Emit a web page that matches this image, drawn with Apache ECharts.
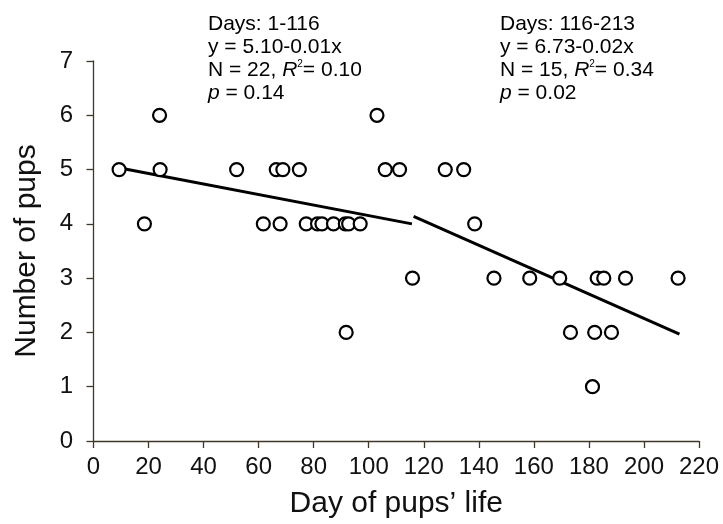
<!DOCTYPE html>
<html>
<head>
<meta charset="utf-8">
<title>Number of pups by day</title>
<script src="https://cdn.jsdelivr.net/npm/echarts@6/dist/echarts.min.js"></script>
<style>
  html, body { margin: 0; padding: 0; background: #fff; }
  #chart { width: 723px; height: 524px; }
</style>
</head>
<body>
<div id="chart"></div>
<script>
// observed points: [day, number of pups]
const pups = [
  [9.3, 5], [18.5, 4], [24.2, 5], [24, 6], [52, 5], [66.4, 5], [68.8, 5], [74.8, 5],
  [61.7, 4], [67.8, 4], [77.3, 4], [81.4, 4], [83, 4], [87.2, 4], [91.5, 4], [92.7, 4], [96.9, 4],
  [91.8, 2], [103, 6], [106, 5], [111.2, 5], [115.9, 3],
  [127.8, 5], [134.5, 5], [138.5, 4],
  [145.5, 3], [158.5, 3], [169.4, 3], [183, 3], [185.4, 3], [193.3, 3], [212.4, 3],
  [173.3, 2], [182.1, 2], [188.2, 2], [181.3, 1]
]
// fitted lines (end points)
const fitEarly = [[9.6, 5.03], [115.7, 4.0]]
const fitLate = [[116.3, 4.14], [212.9, 1.97]]

const xTicks = { min: 0, max: 220, step: 20 }
const yTicks = { min: 0, max: 7, step: 1 }

const font = "'Liberation Sans', Arial, sans-serif"
const axisColor = '#3f3828'

// text blocks above the plot
function noteText (days, eq, n, r2, p) {
  return [
    '{a|Days: ' + days + '}',
    '{a|y = ' + eq + '}',
    '{a|N = ' + n + ', }{i|R}{s|2}{a|= ' + r2 + '}',
    '{i|p}{a| = ' + p + '}'
  ].join('\n')
}
const noteRich = {
  a: { fontSize: 21, fontFamily: font, color: '#111', lineHeight: 23 },
  i: { fontSize: 21, fontFamily: font, fontStyle: 'italic', color: '#111', lineHeight: 23 },
  s: { fontSize: 10, fontFamily: font, color: '#111', lineHeight: 23, verticalAlign: 'top', padding: [0, 0, 10, 0] }
}

const chart = echarts.init(document.getElementById('chart'))
chart.setOption({
  animation: false,
  textStyle: { fontFamily: font },
  grid: { left: 93.5, right: 24, top: 61, bottom: 79 },
  xAxis: {
    type: 'value',
    min: xTicks.min,
    max: xTicks.max,
    interval: xTicks.step,
    offset: 6,
    name: 'Day of pups\u2019 life',
    nameLocation: 'middle',
    nameGap: 42,
    nameTextStyle: { fontSize: 30, color: '#111', fontFamily: font },
    axisLine: { lineStyle: { color: axisColor, width: 1.3 } },
    axisTick: { length: 7, lineStyle: { color: axisColor, width: 1.3 } },
    axisLabel: { fontSize: 24, color: '#111', margin: 8, fontFamily: font },
    splitLine: { show: false }
  },
  yAxis: {
    type: 'value',
    min: yTicks.min,
    max: yTicks.max,
    interval: yTicks.step,
    offset: 9.5,
    name: 'Number of pups',
    nameLocation: 'middle',
    nameGap: 42,
    nameTextStyle: { fontSize: 30, color: '#111', fontFamily: font },
    axisLine: { show: true, lineStyle: { color: axisColor, width: 1.3 } },
    axisTick: { show: true, length: 7, lineStyle: { color: axisColor, width: 1.3 } },
    axisLabel: { fontSize: 24, color: '#111', margin: 11, fontFamily: font },
    splitLine: { show: false }
  },
  graphic: [
    { type: 'text', left: 208, top: 14, style: { text: noteText('1-116', '5.10-0.01x', 22, '0.10', '0.14'), rich: noteRich } },
    { type: 'text', left: 500, top: 14, style: { text: noteText('116-213', '6.73-0.02x', 15, '0.34', '0.02'), rich: noteRich } }
  ],
  series: [
    {
      type: 'line',
      data: fitEarly,
      showSymbol: false,
      lineStyle: { color: '#000', width: 3 },
      z: 3
    },
    {
      type: 'line',
      data: fitLate,
      showSymbol: false,
      lineStyle: { color: '#000', width: 3 },
      z: 3
    },
    {
      type: 'scatter',
      data: pups,
      symbol: 'circle',
      symbolSize: 13,
      itemStyle: { color: '#fff', borderColor: '#000', borderWidth: 2.2, opacity: 1 },
      z: 4
    }
  ]
})
</script>
</body>
</html>
